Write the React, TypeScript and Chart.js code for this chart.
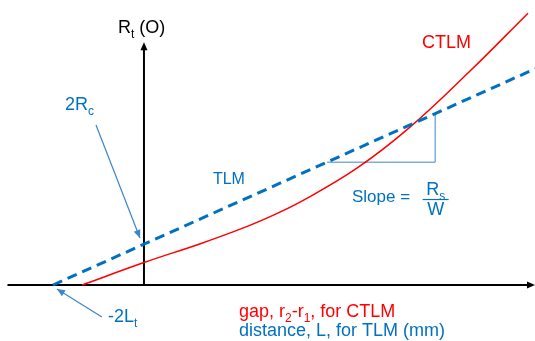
import React, { useEffect, useRef } from "react";
import { Chart, registerables } from "chart.js";

Chart.register(...registerables);

// Axis ranges (data units)
const xRange = [-1.582, 4.297];
const yRange = [-5.49, 27.94];

// TLM (dashed straight line): intercepts at -2Lt and 2Rc
const tlmX = [-1.0, 4.3];
const tlmY = [0, 21.2];

// CTLM curve
const ctlmX = [-0.68, 0, 0.62, 1.05, 1.38, 1.75, 2.34, 2.92, 3.58, 4.22];
const ctlmY = [0, 2.2, 4.05, 5.45, 6.68, 8.3, 11.45, 15.45, 20.95, 26.65];

// Slope triangle
const slopeX = [2.01, 3.2, 3.2];
const slopeY = [12.04, 12.04, 16.8];

// Axis extents
const xAxisLine = [-1.5, 4.297];
const yAxisLine = [0, 23.8];

// Annotation arrows [fromX, fromY, toX, toY]
const arrowRc = [-0.527, 15.69, -0.044, 4.61];
const arrowLt = [-0.462, -3.14, -0.956, -0.39];

const BLUE = "#0070C0";
const THIN_BLUE = "#3a86c8";
const RED = "#FF0000";
const FONT = '"Liberation Sans", Arial, sans-serif';

type Part = { t: string; sub?: boolean };

function drawRich(ctx: CanvasRenderingContext2D, x: number, y: number, parts: Part[], size: number, color: string) {
  ctx.fillStyle = color;
  ctx.textBaseline = "alphabetic";
  ctx.textAlign = "left";
  let cx = x;
  for (const p of parts) {
    if (p.sub) {
      ctx.font = `${Math.round(size * 0.68)}px ${FONT}`;
      ctx.fillText(p.t, cx, y + size * 0.28);
    } else {
      ctx.font = `${size}px ${FONT}`;
      ctx.fillText(p.t, cx, y);
    }
    cx += ctx.measureText(p.t).width;
  }
}

function arrowHead(ctx: CanvasRenderingContext2D, x1: number, y1: number, x2: number, y2: number, len: number, w: number, color: string) {
  const a = Math.atan2(y2 - y1, x2 - x1);
  ctx.fillStyle = color;
  ctx.beginPath();
  ctx.moveTo(x2, y2);
  ctx.lineTo(x2 - len * Math.cos(a) + w * Math.sin(a), y2 - len * Math.sin(a) - w * Math.cos(a));
  ctx.lineTo(x2 - len * Math.cos(a) - w * Math.sin(a), y2 - len * Math.sin(a) + w * Math.cos(a));
  ctx.closePath();
  ctx.fill();
}

const overlay = {
  id: "overlay",
  beforeDatasetsDraw(chart: any) {
    const ctx: CanvasRenderingContext2D = chart.ctx;
    const xs = chart.scales.x;
    const ys = chart.scales.y;
    const px = (v: number) => xs.getPixelForValue(v);
    const py = (v: number) => ys.getPixelForValue(v);
    ctx.save();
    ctx.strokeStyle = "#000";
    ctx.lineWidth = 2;
    // x axis
    ctx.beginPath();
    ctx.moveTo(px(xAxisLine[0]), py(0));
    ctx.lineTo(px(xAxisLine[1]) - 6, py(0));
    ctx.stroke();
    arrowHead(ctx, px(xAxisLine[0]), py(0), px(xAxisLine[1]), py(0), 8, 3.5, "#000");
    // y axis
    ctx.beginPath();
    ctx.moveTo(px(0), py(yAxisLine[0]));
    ctx.lineTo(px(0), py(yAxisLine[1]) + 6);
    ctx.stroke();
    arrowHead(ctx, px(0), py(yAxisLine[0]), px(0), py(yAxisLine[1]), 8, 3.5, "#000");
    ctx.restore();
  },
  afterDatasetsDraw(chart: any) {
    const ctx: CanvasRenderingContext2D = chart.ctx;
    const xs = chart.scales.x;
    const ys = chart.scales.y;
    const px = (v: number) => xs.getPixelForValue(v);
    const py = (v: number) => ys.getPixelForValue(v);
    ctx.save();
    // arrows
    for (const a of [arrowRc, arrowLt]) {
      const x1 = px(a[0]), y1 = py(a[1]), x2 = px(a[2]), y2 = py(a[3]);
      ctx.strokeStyle = THIN_BLUE;
      ctx.lineWidth = 1.2;
      ctx.beginPath();
      ctx.moveTo(x1, y1);
      ctx.lineTo(x2, y2);
      ctx.stroke();
      arrowHead(ctx, x1, y1, x2, y2, 8, 3.5, THIN_BLUE);
    }
    // texts
    drawRich(ctx, px(-0.286), py(24.7), [{ t: "R" }, { t: "t", sub: true }, { t: " (O)" }], 18, "#000");
    drawRich(ctx, px(-0.868), py(17.16), [{ t: "2R" }, { t: "c", sub: true }], 18, BLUE);
    drawRich(ctx, px(0.758), py(9.9), [{ t: "TLM" }], 16, BLUE);
    drawRich(ctx, px(3.055), py(23.24), [{ t: "CTLM" }], 18, RED);
    drawRich(ctx, px(2.286), py(8.14), [{ t: "Slope =" }], 17, BLUE);
    // fraction Rs / W
    const fx = px(3.205);
    ctx.font = `18px ${FONT}`;
    const rw = ctx.measureText("R").width;
    ctx.font = `${Math.round(18 * 0.68)}px ${FONT}`;
    const sw = ctx.measureText("s").width;
    drawRich(ctx, fx - (rw + sw) / 2, py(8.82), [{ t: "R" }, { t: "s", sub: true }], 18, BLUE);
    ctx.font = `18px ${FONT}`;
    const ww = ctx.measureText("W").width;
    drawRich(ctx, fx - ww / 2, py(6.86), [{ t: "W" }], 18, BLUE);
    ctx.strokeStyle = BLUE;
    ctx.lineWidth = 1.2;
    ctx.beginPath();
    ctx.moveTo(fx - 13, py(8.38));
    ctx.lineTo(fx + 13, py(8.38));
    ctx.stroke();
    drawRich(ctx, px(-0.396), py(-3.63), [{ t: "-2L" }, { t: "t", sub: true }], 18, BLUE);
    drawRich(ctx, px(1.044), py(-3.14), [{ t: "gap, r" }, { t: "2", sub: true }, { t: "-r" }, { t: "1", sub: true }, { t: ", for CTLM" }], 18, RED);
    drawRich(ctx, px(1.044), py(-5.0), [{ t: "distance, L, for TLM (mm)" }], 18, BLUE);
    ctx.restore();
  },
};

export default function App() {
  const ref = useRef<HTMLCanvasElement | null>(null);
  useEffect(() => {
    if (!ref.current) return;
    const toPts = (xs: number[], ys: number[]) => xs.map((x, i) => ({ x, y: ys[i] }));
    const chart = new Chart(ref.current, {
      type: "line",
      data: {
        datasets: [
          {
            label: "TLM",
            data: toPts(tlmX, tlmY),
            borderColor: BLUE,
            borderWidth: 3,
            borderDash: [10, 6],
            pointRadius: 0,
            fill: false,
          },
          {
            label: "CTLM",
            data: toPts(ctlmX, ctlmY),
            borderColor: RED,
            borderWidth: 1.5,
            pointRadius: 0,
            tension: 0.4,
            fill: false,
          },
          {
            label: "slope",
            data: toPts(slopeX, slopeY),
            borderColor: THIN_BLUE,
            borderWidth: 1,
            pointRadius: 0,
            tension: 0,
            fill: false,
          },
        ],
      },
      options: {
        animation: false,
        responsive: false,
        layout: { padding: 0 },
        plugins: { legend: { display: false }, tooltip: { enabled: false } },
        scales: {
          x: { type: "linear", min: xRange[0], max: xRange[1], display: false },
          y: { type: "linear", min: yRange[0], max: yRange[1], display: false },
        },
      } as any,
      plugins: [overlay],
    });
    return () => chart.destroy();
  }, []);
  return (
    <div style={{ position: "absolute", left: 0, top: 0, width: 535, height: 341, background: "#fff" }}>
      <canvas ref={ref} width={535} height={341} style={{ display: "block" }} />
    </div>
  );
}
